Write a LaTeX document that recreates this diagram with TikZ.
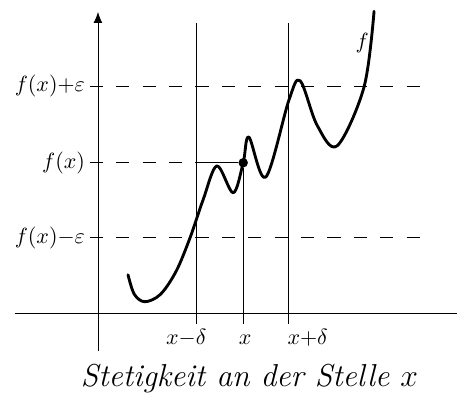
\documentclass[tikz,border=0pt]{standalone}
\usetikzlibrary{arrows.meta}

\begin{document}
\begin{tikzpicture}[
  axis/.style={thin},
  guide/.style={thin},
  level/.style={thin, dash pattern=on 6pt off 6pt},
  graph/.style={line width=1.3pt, line join=round, line cap=round},
  dot/.style={circle, fill, inner sep=0pt, minimum size=4.3pt},
  lbl/.style={inner sep=2pt}
  ]

  \useasboundingbox (-1.565,-1.294) rectangle (5.735,5.0);

  % axes
  \coordinate (xl) at (-1.33,0);
  \coordinate (xr) at (5.735,0);
  \coordinate (yb) at (0,-0.61);
  \coordinate (yt) at (0,4.81);
  \draw[axis] (xl) -- (xr);
  \draw[axis, -{Latex[length=5pt,width=4pt]}] (yb) -- (yt);

  % the point (x,f(x))
  \node[dot] (p) at (2.32,2.40) {};

  % vertical lines at x-delta, x, x+delta
  \coordinate (dm0) at (1.58,-0.17);
  \coordinate (dm1) at (1.58,4.63);
  \coordinate (x0) at (2.32,-0.17);
  \coordinate (dp0) at (3.05,-0.17);
  \coordinate (dp1) at (3.05,4.63);
  \draw[guide] (dm0) -- (dm1);
  \draw[guide] (x0) -- (p);
  \draw[guide] (dp0) -- (dp1);

  % levels f(x)+eps, f(x), f(x)-eps
  \node[left, lbl] (up) at (-0.13,3.62) {$f(x){+}\varepsilon$};
  \node[left, lbl] (fx) at (-0.13,2.40) {$f(x)$};
  \node[left, lbl] (lo) at (-0.13,1.20) {$f(x){-}\varepsilon$};
  \coordinate (upr) at (5.18,3.62);
  \coordinate (fxm) at (1.58,2.40);
  \coordinate (lor) at (5.18,1.20);
  \draw[level] (up.east) -- (upr);
  \draw[level] (fx.east) -- (fxm);
  \draw[guide] (fxm) -- (p);
  \draw[level] (lo.east) -- (lor);

  % labels on the x axis
  \node[anchor=base] (lxm) at (1.41,-0.51) {$x{-}\delta$};
  \node[anchor=base] (lx) at (2.35,-0.51) {$x$};
  \node[anchor=base] (lxp) at (3.35,-0.51) {$x{+}\delta$};

  % the function
  \draw[graph] plot[smooth, tension=0.55] coordinates {
    (0.48,0.61) (0.58,0.30) (0.75,0.18) (1.00,0.30) (1.25,0.67)
    (1.47,1.20) (1.68,1.81) (1.90,2.35) (2.16,1.92) (2.32,2.40)
    (2.41,2.81) (2.68,2.17) (3.05,3.40) (3.23,3.71) (3.50,3.00)
    (3.82,2.67) (4.25,3.61) (4.41,4.82)};
  \node (fl) at (4.22,4.31) {$f$};

  \node[anchor=base] (cap) at (2.42,-1.18) {\Large\itshape Stetigkeit an der Stelle $x$};

\end{tikzpicture}
\end{document}
